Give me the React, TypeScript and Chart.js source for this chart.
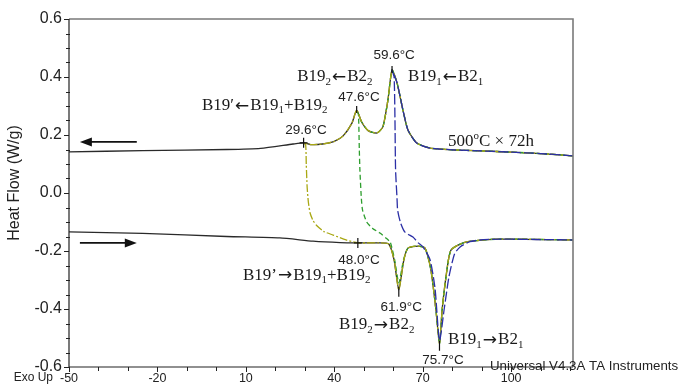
import React, { useEffect, useRef } from "react";
import { Chart, registerables } from "chart.js";
Chart.register(...registerables);

// ---- axes ----
const xMin = -50;
const xMax = 121;
const yMin = -0.6;
const yMax = 0.6;
const xLabelTicks = [-50, -20, 10, 40, 70, 100];
const xMinorTicks = [-50, -40, -30, -20, -10, 0, 10, 20, 30, 40, 50, 60, 70, 80, 90, 100, 110, 120];
const yLabelTicks = [-0.6, -0.4, -0.2, 0, 0.2, 0.4, 0.6];
const yMinorTicks = [-0.55, -0.5, -0.45, -0.35, -0.3, -0.25, -0.15, -0.1, -0.05, 0.05, 0.1, 0.15, 0.25, 0.3, 0.35, 0.45, 0.5, 0.55];

// ---- full cooling trace (upper), temperature ascending ----
const coolT = [-50, -25, 3.5, 15, 26, 29.6, 32, 36, 40, 43, 46, 47.6, 49.3, 51.5, 54.5, 56.5, 58.2, 59.6, 61.3, 63.3, 65, 68, 72.5, 80, 90, 100, 110, 121];
const coolV = [0.142, 0.146, 0.15, 0.154, 0.169, 0.173, 0.167, 0.169, 0.178, 0.197, 0.241, 0.286, 0.245, 0.215, 0.207, 0.228, 0.32, 0.424, 0.38, 0.286, 0.217, 0.172, 0.155, 0.149, 0.145, 0.141, 0.136, 0.128];

// ---- full heating trace (lower), temperature ascending ----
const heatT = [-50, -25, 3.5, 21.5, 32.8, 42, 48, 55, 58.5, 60.3, 61.9, 63.6, 65, 68.4, 70.8, 72.8, 74.5, 75.7, 76.6, 77.9, 79.6, 84.5, 96, 121];
const heatV = [-0.134, -0.139, -0.15, -0.155, -0.166, -0.171, -0.172, -0.172, -0.176, -0.231, -0.334, -0.231, -0.19, -0.183, -0.19, -0.266, -0.403, -0.52, -0.403, -0.29, -0.197, -0.169, -0.159, -0.162];

// ---- interrupted runs: transition from cooling end to heating ----
const yellowStop = 29.6;
const yellowDescT = [30.3, 30.5, 30.8, 31.2, 31.8, 32.8, 34.2, 36.5, 39.6, 44];
const yellowDescV = [0.165, 0.1, 0.02, -0.03, -0.069, -0.095, -0.114, -0.133, -0.145, -0.162];
const yellowJoin = 48;

const greenStop = 47.6;
const greenDescT = [48.2, 48.5, 48.7, 49.2, 49.6, 51, 53, 55.5, 57.5, 59, 60.5, 61.9, 63.5, 65];
const greenDescV = [0.27, 0.15, 0.079, -0.02, -0.059, -0.1, -0.122, -0.138, -0.155, -0.17, -0.231, -0.31, -0.231, -0.19];
const greenJoin = 68;

const blueStop = 59.6;
const blueDescT = [60.3, 60.6, 60.8, 61.3, 61.5, 62.5, 64, 66.7, 68.5, 70.1, 72.5, 74.2, 75.7, 77.3, 78.9, 80.8, 82.7, 86, 89.5, 96.3];
const blueDescV = [0.4, 0.25, 0.08, -0.02, -0.059, -0.103, -0.135, -0.152, -0.172, -0.186, -0.23, -0.33, -0.51, -0.4, -0.29, -0.21, -0.186, -0.168, -0.162, -0.159];
const blueJoin = 100;

// ---- annotations (data coordinates) ----
const tempLabels = [
  { text: "59.6°C", x: 60.3, y: 0.476 },
  { text: "47.6°C", x: 48.4, y: 0.331 },
  { text: "29.6°C", x: 30.4, y: 0.217 },
  { text: "48.0°C", x: 48.4, y: -0.231 },
  { text: "61.9°C", x: 62.7, y: -0.393 },
  { text: "75.7°C", x: 76.9, y: -0.576 },
];
type Seg = { t: string; sub?: boolean; sup?: boolean; arrow?: boolean };
const phaseLabels: { segs: Seg[]; x: number; y: number }[] = [
  { segs: [{ t: "B19" }, { t: "2", sub: true }, { t: "←", arrow: true }, { t: "B2" }, { t: "2", sub: true }], x: 27.4, y: 0.4 },
  { segs: [{ t: "B19" }, { t: "1", sub: true }, { t: "←", arrow: true }, { t: "B2" }, { t: "1", sub: true }], x: 65.0, y: 0.4 },
  { segs: [{ t: "B19′" }, { t: "←", arrow: true }, { t: "B19" }, { t: "1", sub: true }, { t: "+B19" }, { t: "2", sub: true }], x: -4.9, y: 0.303 },
  { segs: [{ t: "500" }, { t: "o", sup: true }, { t: "C × 72h" }], x: 78.6, y: 0.176 },
  { segs: [{ t: "B19’" }, { t: "→", arrow: true }, { t: "B19" }, { t: "1", sub: true }, { t: "+B19" }, { t: "2", sub: true }], x: 9.0, y: -0.283 },
  { segs: [{ t: "B19" }, { t: "2", sub: true }, { t: "→", arrow: true }, { t: "B2" }, { t: "2", sub: true }], x: 41.6, y: -0.455 },
  { segs: [{ t: "B19" }, { t: "1", sub: true }, { t: "→", arrow: true }, { t: "B2" }, { t: "1", sub: true }], x: 78.6, y: -0.507 },
];
const crossMarks = [
  { x: 29.6, y: 0.173 },
  { x: 48.0, y: -0.172 },
];
const peakMarks = [
  { x: 47.6, y: 0.286 },
  { x: 59.6, y: 0.424 },
];
const valleyMarks = [
  { x: 61.9, y: -0.334 },
  { x: 75.7, y: -0.52 },
];
const arrows = [
  { from: -27.0, to: -46.3, y: 0.176 },
  { from: -46.3, to: -27.0, y: -0.172 },
];

const pts = (T: number[], V: number[]) => T.map((t, i) => ({ x: t, y: V[i] }));
const cool = pts(coolT, coolV);
const heat = pts(heatT, heatV);
const coolDownTo = (t0: number) => cool.filter((p) => p.x >= t0).reverse();
const heatFrom = (t0: number) => heat.filter((p) => p.x >= t0);

const SANS = '"Liberation Sans", Arial, sans-serif';
const SERIF = '"Liberation Serif", "Times New Roman", serif';
const ARROWFONT = '"DejaVu Sans", sans-serif';

function drawRich(ctx: CanvasRenderingContext2D, segs: Seg[], x: number, y: number, size: number) {
  let cx = x;
  ctx.textAlign = "left";
  ctx.textBaseline = "middle";
  for (const s of segs) {
    if (s.sub || s.sup) {
      ctx.font = `${Math.round(size * 0.66)}px ${SERIF}`;
      ctx.fillText(s.t, cx, y + (s.sub ? size * 0.32 : -size * 0.32));
      cx += ctx.measureText(s.t).width;
    } else if (s.arrow) {
      ctx.font = `${size}px ${ARROWFONT}`;
      cx += 1;
      ctx.fillText(s.t, cx, y + 1);
      cx += ctx.measureText(s.t).width + 1;
    } else {
      ctx.font = `${size}px ${SERIF}`;
      ctx.fillText(s.t, cx, y);
      cx += ctx.measureText(s.t).width;
    }
  }
}

const decorPlugin = {
  id: "decor",
  afterDraw(chart: any) {
    const { ctx, chartArea: a, scales } = chart;
    const xs = scales.x;
    const ys = scales.y;
    ctx.save();
    // frame
    ctx.strokeStyle = "#7a7a7a";
    ctx.lineWidth = 1.6;
    ctx.beginPath();
    ctx.moveTo(a.left, a.top);
    ctx.lineTo(a.right, a.top);
    ctx.lineTo(a.right, a.bottom);
    ctx.stroke();
    ctx.strokeStyle = "#222";
    ctx.lineWidth = 1.2;
    ctx.beginPath();
    ctx.moveTo(a.left, a.top);
    ctx.lineTo(a.left, a.bottom);
    ctx.lineTo(a.right, a.bottom);
    ctx.stroke();
    // ticks
    ctx.lineWidth = 1;
    ctx.beginPath();
    for (const v of xMinorTicks) {
      const px = Math.round(xs.getPixelForValue(v)) + 0.5;
      const len = xLabelTicks.includes(v) ? 5 : 4;
      ctx.moveTo(px, a.bottom);
      ctx.lineTo(px, a.bottom + len);
    }
    for (const v of yLabelTicks) {
      const py = Math.round(ys.getPixelForValue(v)) + 0.5;
      ctx.moveTo(a.left - 5, py);
      ctx.lineTo(a.left, py);
    }
    for (const v of yMinorTicks) {
      const py = Math.round(ys.getPixelForValue(v)) + 0.5;
      ctx.moveTo(a.left - 3, py);
      ctx.lineTo(a.left + 1, py);
    }
    ctx.stroke();

    // y title
    ctx.fillStyle = "#222";
    ctx.save();
    ctx.translate(15, (a.top + a.bottom) / 2 - 10);
    ctx.rotate(-Math.PI / 2);
    ctx.font = `16px ${SANS}`;
    ctx.textAlign = "center";
    ctx.textBaseline = "middle";
    ctx.fillText("Heat Flow (W/g)", 0, 0);
    ctx.restore();

    // footer texts
    ctx.font = `12px ${SANS}`;
    ctx.textAlign = "right";
    ctx.textBaseline = "middle";
    ctx.fillText("Exo Up", a.left - 16, a.bottom + 11);
    ctx.textAlign = "left";
    ctx.font = `13.3px ${SANS}`;
    ctx.fillText("Universal V4.3A TA Instruments", a.right - 83, a.bottom - 1);

    // markers
    ctx.strokeStyle = "#111";
    ctx.lineWidth = 1.2;
    ctx.beginPath();
    for (const m of crossMarks) {
      const px = xs.getPixelForValue(m.x);
      const py = ys.getPixelForValue(m.y);
      ctx.moveTo(px, py - 5);
      ctx.lineTo(px, py + 5);
      ctx.moveTo(px - 4, py);
      ctx.lineTo(px + 4, py);
    }
    for (const m of peakMarks) {
      const px = xs.getPixelForValue(m.x);
      const py = ys.getPixelForValue(m.y);
      ctx.moveTo(px, py - 4);
      ctx.lineTo(px, py + 3);
    }
    for (const m of valleyMarks) {
      const px = xs.getPixelForValue(m.x);
      const py = ys.getPixelForValue(m.y);
      ctx.moveTo(px, py - 3);
      ctx.lineTo(px, py + 7);
    }
    ctx.stroke();

    // arrows
    ctx.fillStyle = "#111";
    ctx.lineWidth = 1.8;
    for (const ar of arrows) {
      const x1 = xs.getPixelForValue(ar.from);
      const x2 = xs.getPixelForValue(ar.to);
      const py = ys.getPixelForValue(ar.y);
      const dir = Math.sign(x2 - x1);
      ctx.beginPath();
      ctx.moveTo(x1, py);
      ctx.lineTo(x2 - dir * 8, py);
      ctx.stroke();
      ctx.beginPath();
      ctx.moveTo(x2, py);
      ctx.lineTo(x2 - dir * 12, py - 4.5);
      ctx.lineTo(x2 - dir * 12, py + 4.5);
      ctx.closePath();
      ctx.fill();
    }

    // temperature labels
    ctx.fillStyle = "#222";
    ctx.font = `13.5px ${SANS}`;
    ctx.textAlign = "center";
    ctx.textBaseline = "middle";
    for (const l of tempLabels) {
      ctx.fillText(l.text, xs.getPixelForValue(l.x), ys.getPixelForValue(l.y));
    }
    // phase labels
    ctx.fillStyle = "#1a1a1a";
    for (const l of phaseLabels) {
      drawRich(ctx, l.segs, xs.getPixelForValue(l.x), ys.getPixelForValue(l.y), 17);
    }
    ctx.restore();
  },
};

export default function App() {
  const ref = useRef<HTMLCanvasElement | null>(null);
  useEffect(() => {
    if (!ref.current) return;
    const common = { pointRadius: 0, borderWidth: 1.3, tension: 0.2, fill: false, spanGaps: false };
    const chart = new Chart(ref.current, {
      type: "line",
      data: {
        datasets: [
          {
            ...common,
            label: "blue",
            data: [...coolDownTo(blueStop), ...pts(blueDescT, blueDescV), ...heatFrom(blueJoin)],
            borderColor: "#2b2fa6",
            borderDash: [10, 3],
          },
          {
            ...common,
            label: "yellow",
            data: [...coolDownTo(yellowStop), ...pts(yellowDescT, yellowDescV), ...heatFrom(yellowJoin)],
            borderColor: "#a9a814",
            borderDash: [8, 2, 2, 2],
          },
          {
            ...common,
            label: "green",
            data: [...coolDownTo(greenStop), ...pts(greenDescT, greenDescV), ...heatFrom(greenJoin)],
            borderColor: "#2e9e2e",
            borderDash: [5, 3],
          },
          {
            ...common,
            label: "black",
            data: [...cool.slice().reverse(), { x: xMin, y: null }, ...heat],
            borderColor: "#2a2a2a",
          },
        ],
      },
      options: {
        responsive: false,
        animation: false,
        events: [],
        layout: { padding: { left: 0, top: 19, right: 106, bottom: 0 } },
        plugins: { legend: { display: false }, tooltip: { enabled: false }, title: { display: false } },
        scales: {
          x: {
            type: "linear",
            min: xMin,
            max: xMax,
            grid: { display: false, drawTicks: false, tickLength: 0 },
            border: { display: false },
            afterBuildTicks: (s: any) => {
              s.ticks = xLabelTicks.map((v) => ({ value: v }));
            },
            afterFit: (s: any) => {
              s.height = 23;
            },
            ticks: {
              padding: 4,
              autoSkip: false,
              maxRotation: 0,
              color: "#222",
              font: { family: SANS, size: 12.5 },
              callback: (v: any) => String(v),
            },
          },
          y: {
            type: "linear",
            min: yMin,
            max: yMax,
            grid: { display: false, drawTicks: false, tickLength: 0 },
            border: { display: false },
            afterBuildTicks: (s: any) => {
              s.ticks = yLabelTicks.map((v) => ({ value: v }));
            },
            afterFit: (s: any) => {
              s.width = 69;
            },
            ticks: {
              padding: 7,
              color: "#222",
              font: { family: SANS, size: 16 },
              callback: (v: any) => Number(v).toFixed(1),
            },
          },
        },
      },
      plugins: [decorPlugin],
    });
    return () => chart.destroy();
  }, []);
  return (
    <div style={{ position: "fixed", left: 0, top: 0, width: 679, height: 390, background: "#fff" }}>
      <canvas ref={ref} width={679} height={390} />
    </div>
  );
}
